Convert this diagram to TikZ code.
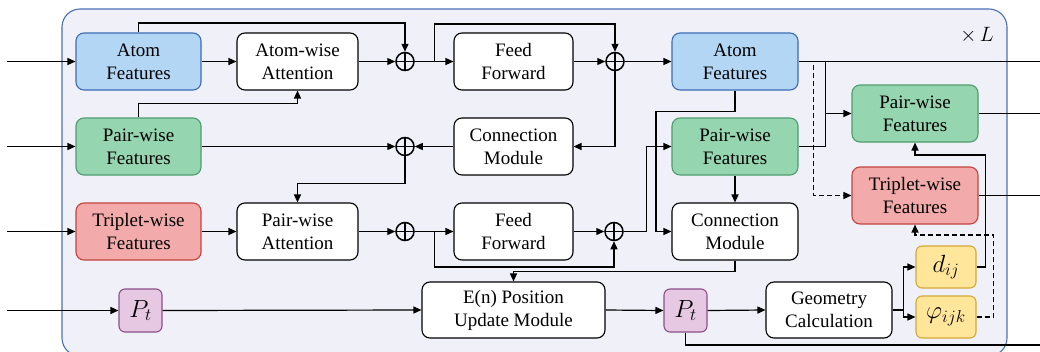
\documentclass[tikz,border=0pt]{standalone}
\usepackage{fontspec}
\setmainfont{Liberation Serif}
\usetikzlibrary{calc,arrows.meta}
\tikzset{>={Triangle[length=8pt,width=7pt]}}
\definecolor{bgfill}{HTML}{EFF0F8}
\definecolor{bgline}{HTML}{4A6FB5}
\definecolor{atomfill}{HTML}{B2D6F4}
\definecolor{atomline}{HTML}{3C6CB4}
\definecolor{pairfill}{HTML}{95D5B0}
\definecolor{pairline}{HTML}{4F9D6E}
\definecolor{tripfill}{HTML}{F2AAAA}
\definecolor{tripline}{HTML}{C5423F}
\definecolor{posfill}{HTML}{E6C8E3}
\definecolor{posline}{HTML}{8C4F8A}
\definecolor{geofill}{HTML}{FFE69A}
\definecolor{geoline}{HTML}{D5A935}

\begin{document}
\begin{tikzpicture}[x=1pt,y=-1pt,line width=1.2pt,
  box/.style={draw,fill=white,rounded corners=8pt,line width=1.1pt,minimum width=125pt,
    minimum height=57pt,inner sep=0pt,align=center,font=\fontsize{19}{23}\selectfont},
  atomf/.style={fill=atomfill,draw=atomline},
  pairf/.style={fill=pairfill,draw=pairline},
  tripf/.style={fill=tripfill,draw=tripline},
  posf/.style={fill=posfill,draw=posline,rounded corners=6pt,minimum width=43pt,minimum height=43pt,
    font=\fontsize{23}{27}\selectfont},
  geof/.style={fill=geofill,draw=geoline,rounded corners=6pt,minimum width=60pt,minimum height=42pt,
    font=\fontsize{23}{27}\selectfont},
  op/.style={circle,draw,line width=1.5pt,minimum size=18pt,inner sep=0pt,
    path picture={\draw[line width=1.5pt] (path picture bounding box.north) -- (path picture bounding box.south)
      (path picture bounding box.west) -- (path picture bounding box.east);}}]
\useasboundingbox (0,0) rectangle (1040,351);
\draw[fill=bgfill,draw=bgline,line width=1.1pt,rounded corners=18pt] (62,9) rectangle (1007,356);
\node[font=\fontsize{22}{26}\selectfont] (rep) at (977,35) {$\times\, L$};

\coordinate (inx) at (7,0);
\coordinate (outx) at (1040,0);
\coordinate (outB) at (1040,345);

\node[box,atomf] (atomL) at (138.5,61.5) {Atom\\Features};
\node[box,minimum width=121pt] (attA) at (297.5,61.5) {Atom-wise\\Attention};
\node[op] (o1) at (405,61.5) {};
\node[box,minimum width=119pt] (ffA) at (513.5,61.5) {Feed\\Forward};
\node[op] (o2) at (615,61.5) {};
\node[box,atomf,minimum width=126pt] (atomR) at (735,61.5) {Atom\\Features};

\node[box,pairf] (pairL) at (138.5,146.5) {Pair-wise\\Features};
\node[op] (o3) at (405,146.5) {};
\node[box,minimum width=119pt] (connA) at (513.5,146.5) {Connection\\Module};
\node[box,pairf,minimum width=126pt] (pairM) at (735,146.5) {Pair-wise\\Features};
\node[box,pairf,minimum width=126pt] (pairR) at (915,113.5) {Pair-wise\\Features};

\node[box,tripf] (tripL) at (138.5,231.5) {Triplet-wise\\Features};
\node[box,minimum width=121pt] (attP) at (297.5,231.5) {Pair-wise\\Attention};
\node[op] (o4) at (405,231.5) {};
\node[box,minimum width=119pt] (ffP) at (513.5,231.5) {Feed\\Forward};
\node[op] (o5) at (614,231.5) {};
\node[box,minimum width=126pt] (connP) at (735,231.5) {Connection\\Module};
\node[box,tripf,minimum width=126pt] (tripR) at (915,195.5) {Triplet-wise\\Features};

\node[box,posf] (ptL) at (140.5,310.5) {$P_t$};
\node[box,minimum width=183pt,minimum height=56pt] (enpos) at (513.5,310) {E(n) Position\\Update Module};
\node[box,posf] (ptR) at (685.5,310.5) {$P_t$};
\node[box,minimum width=126pt,minimum height=56pt] (geo) at (829,310) {Geometry\\Calculation};
\node[box,geof] (dij) at (946,267) {$d_{ij}$};
\node[box,geof] (phi) at (946,317) {$\varphi_{ijk}$};

% inputs
\draw[->] (atomL.west -| inx) -- (atomL.west);
\draw[->] (pairL.west -| inx) -- (pairL.west);
\draw[->] (tripL.west -| inx) -- (tripL.west);
\draw[->] (ptL.west -| inx) -- (ptL.west);

% atom row
\draw[->] (atomL.east) -- (attA.west);
\draw[->] (atomL.north) -- ++(0,-9.5) -| (o1.north);
\draw[->] (pairL.north) -- ++(0,-14) -| (attA.south);
\draw[->] (attA.east) -- (o1.west);
\draw[->] (o1.east) -- (ffA.west);
\draw[->] ($(o1.east)!0.5!(ffA.west)$) -- ++(0,-37.5) -| (o2.north);
\draw[->] (ffA.east) -- (o2.west);
\draw[->] (o2.east) -- (atomR.west);

% pair row
\draw[->] (o2.south) |- (connA.east);
\draw[->] (connA.west) -- (o3.east);
\draw[->] (pairL.east) -- (o3.west);
\draw[->] (o3.south) -- ++(0,27) -| (attP.north);

% triplet row
\draw[->] (tripL.east) -- (attP.west);
\draw[->] (attP.east) -- (o4.west);
\draw[->] (o4.east) -- (ffP.west);
\draw[->] ($(o4.east)!0.5!(ffP.west)$) -- ++(0,35.5) -| (o5.south);
\draw[->] (ffP.east) -- (o5.west);
\draw[->] (o5.east) -- ++(22.5,0) |- (pairM.west);
\draw[->] (atomR.south) -- ++(0,21) -- ++(-79,0) |- (connP.west);
\draw[->] (pairM.south) -- (connP.north);
\draw[->] (connP.south) -- ++(0,11) -| (enpos.north);

% positions
\draw[->] (ptL.east) -- (enpos.west);
\draw[->] (enpos.east) -- (ptR.west);
\draw[->] (ptR.east) -- (geo.west);
\draw (ptR.south) |- (outB);
\draw[->] (geo.east) -- ++(11,0) coordinate (gs) |- (dij.west);
\draw[->] (gs) |- (phi.west);
\draw[->] (dij.east) -- ++(9,0) -- ++(0,-112) -| (pairR.south);
\draw[->,dashed,dash pattern=on 5pt off 3pt] (phi.east) -- ++(17,0) -- ++(0,-82) -| (tripR.south);

% outputs
\draw (atomR.east) -- (atomR.east -| outx);
\draw (pairM.east) -- ++(27,0) coordinate (pj) -- (pj |- atomR.east);
\draw[->] (pj |- pairR.west) -- (pairR.west);
\draw[->,dashed,dash pattern=on 5pt off 3pt] ($(atomR.east)+(15,3)$) |- (tripR.west);
\draw (pairR.east) -- (pairR.east -| outx);
\draw (tripR.east) -- (tripR.east -| outx);
\end{tikzpicture}
\end{document}
